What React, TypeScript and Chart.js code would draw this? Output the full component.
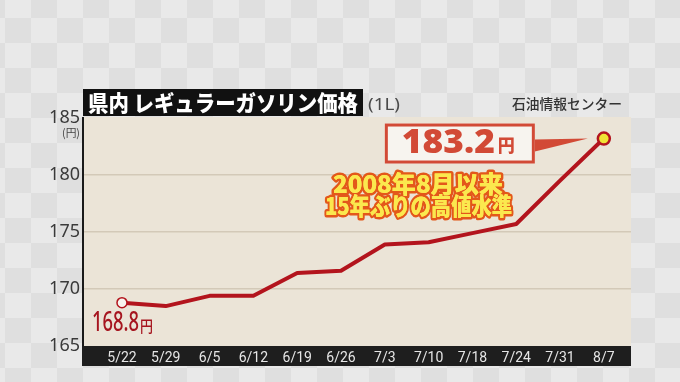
import React, { useEffect, useRef } from "react";
import { Chart, registerables } from "chart.js";

Chart.register(...registerables);

const dates = ["5/22", "5/29", "6/5", "6/12", "6/19", "6/26", "7/3", "7/10", "7/18", "7/24", "7/31", "8/7"];
const prices = [168.8, 168.5, 169.4, 169.4, 171.4, 171.6, 173.9, 174.1, 174.9, 175.7, 179.5, 183.2];
const yTicks = [165, 170, 175, 180, 185];
const titleText = "県内 レギュラーガソリン価格";
const unitText = "(1L)";
const sourceText = "石油情報センター";
const yUnitText = "(円)";
const endLabel = "183.2";
const startLabel = "168.8";
const yenText = "円";
const noteLines = ["2008年8月以来", "15年ぶりの高値水準"];

const CJK = '"Noto Sans CJK JP", "Noto Sans", sans-serif';

function fitText(
  ctx: CanvasRenderingContext2D,
  text: string,
  x: number,
  yMid: number,
  w: number,
  font: string,
  fill: string | CanvasGradient,
  stroke?: string,
  strokeW?: number
) {
  ctx.save();
  ctx.font = font;
  ctx.textAlign = "left";
  ctx.textBaseline = "middle";
  const m = ctx.measureText(text).width;
  const sx = w / m;
  ctx.translate(x, yMid);
  ctx.scale(sx, 1);
  if (stroke && strokeW) {
    ctx.lineJoin = "round";
    ctx.lineWidth = strokeW;
    ctx.strokeStyle = stroke;
    ctx.strokeText(text, 0, 0);
  }
  ctx.fillStyle = fill as any;
  ctx.fillText(text, 0, 0);
  ctx.restore();
}

const backgroundPlugin = {
  id: "bgPanel",
  beforeDraw(chart: any) {
    const ctx: CanvasRenderingContext2D = chart.ctx;
    const { width, height, chartArea } = chart;
    ctx.save();
    ctx.fillStyle = "#e9e9e9";
    ctx.fillRect(0, 0, width, height);
    const cw = 26, ch = 25, ox = -21, oy = -7;
    for (let r = 0; oy + r * ch < height; r++) {
      for (let c = 0; ox + c * cw < width; c++) {
        if ((r + c) % 2 === 0) {
          ctx.fillStyle = "#dfdfdf";
          ctx.fillRect(ox + c * cw, oy + r * ch, cw, ch);
        }
      }
    }
    ctx.fillStyle = "#ebe4d7";
    ctx.fillRect(chartArea.left, chartArea.top - 1, chartArea.right - chartArea.left, chartArea.bottom - chartArea.top + 1);
    ctx.fillStyle = "#1e1e1e";
    ctx.fillRect(chartArea.left - 1, chartArea.bottom, chartArea.right - chartArea.left + 1, 20);
    ctx.fillStyle = "#111111";
    ctx.fillRect(chartArea.left, chartArea.top - 29, 280, 27);
    ctx.restore();
    fitText(ctx, titleText, chartArea.left + 5, chartArea.top - 15, 270, `900 22px ${CJK}`, "#ffffff");
    fitText(ctx, unitText, chartArea.left + 285, chartArea.top - 13, 32, `16px "Noto Sans", sans-serif`, "#4a4a4a");
    fitText(ctx, sourceText, chartArea.right - 119, chartArea.top - 14, 110, `500 14px ${CJK}`, "#333333");
    const yScale = chart.scales.y;
    fitText(ctx, yUnitText, chartArea.left - 21, yScale.getPixelForValue(185) + 15, 18, `11px ${CJK}`, "#444444");
  },
};

const annotationPlugin = {
  id: "notes",
  afterDraw(chart: any) {
    const ctx: CanvasRenderingContext2D = chart.ctx;
    const xs = chart.scales.x;
    const ys = chart.scales.y;
    const last = prices.length - 1;
    const ex = xs.getPixelForValue(last);
    const ey = ys.getPixelForValue(prices[last]);
    const sx = xs.getPixelForValue(0);
    const sy = ys.getPixelForValue(prices[0]);

    ctx.save();
    const boxR = ex - 69;
    const boxL = boxR - 150;
    const boxT = ey - 15;
    const boxB = ey + 25;
    ctx.fillStyle = "#d24a36";
    ctx.beginPath();
    ctx.moveTo(boxR, ey + 1);
    ctx.lineTo(ex - 16, ey);
    ctx.lineTo(boxR, ey + 13);
    ctx.closePath();
    ctx.fill();
    ctx.fillStyle = "#f7f4ef";
    ctx.fillRect(boxL, boxT, boxR - boxL, boxB - boxT);
    ctx.strokeStyle = "#d24a36";
    ctx.lineWidth = 3;
    ctx.strokeRect(boxL + 1.5, boxT + 1.5, boxR - boxL - 3, boxB - boxT - 3);
    ctx.restore();
    fitText(ctx, endLabel, boxL + 17, boxT + 20, 93, `900 33px "Noto Sans", sans-serif`, "#d24a36");
    fitText(ctx, yenText, boxL + 113, boxT + 22, 17, `900 18px ${CJK}`, "#d24a36");

    const grad = ctx.createLinearGradient(0, 172, 0, 218);
    grad.addColorStop(0, "#fbe84e");
    grad.addColorStop(0.5, "#f9cf25");
    grad.addColorStop(1, "#f6b01c");
    fitText(ctx, noteLines[0], 333, 184, 170, `900 24px ${CJK}`, grad, "#e3581a", 5);
    fitText(ctx, noteLines[1], 325, 206, 187, `900 24px ${CJK}`, grad, "#e3581a", 5);
    fitText(ctx, noteLines[0], 333, 184, 170, `900 24px ${CJK}`, grad);
    fitText(ctx, noteLines[1], 325, 206, 187, `900 24px ${CJK}`, grad);

    fitText(ctx, startLabel, sx - 30, sy + 21, 47, `500 27px "Noto Sans", sans-serif`, "#a6151f");
    fitText(ctx, yenText, sx + 18, sy + 23, 13, `500 16px ${CJK}`, "#a6151f");
  },
};

export default function App() {
  const canvasRef = useRef<HTMLCanvasElement | null>(null);

  useEffect(() => {
    document.body.style.margin = "0";
    const canvas = canvasRef.current;
    if (!canvas) return;
    const n = prices.length;
    const radii = prices.map((_, i) => (i === 0 ? 5 : i === n - 1 ? 6 : 0));
    const fills = prices.map((_, i) => (i === n - 1 ? "#f0e535" : "#f7f4ef"));
    const borders = prices.map(() => "#b3141d");
    const bws = prices.map((_, i) => (i === n - 1 ? 2.5 : 1.5));

    const chart = new Chart(canvas, {
      type: "line",
      data: {
        datasets: [
          {
            data: prices.map((v, i) => ({ x: i, y: v })),
            borderColor: "#b3141d",
            borderWidth: 4,
            tension: 0,
            pointRadius: radii,
            pointBackgroundColor: fills,
            pointBorderColor: borders,
            pointBorderWidth: bws,
            borderJoinStyle: "round",
          } as any,
        ],
      },
      options: {
        animation: false,
        responsive: false,
        maintainAspectRatio: false,
        layout: { padding: { top: 118, right: 49, bottom: 0, left: 0 } },
        plugins: {
          legend: { display: false },
          tooltip: { enabled: false },
          title: { display: false },
        },
        scales: {
          x: {
            type: "linear",
            min: -0.89,
            max: 11.62,
            afterBuildTicks: (scale: any) => {
              scale.ticks = dates.map((_, i) => ({ value: i }));
            },
            afterFit: (scale: any) => {
              scale.height = 36;
            },
            grid: { display: false, drawTicks: false },
            border: { display: false },
            ticks: {
              padding: 4,
              autoSkip: false,
              maxRotation: 0,
              color: "#e6e6e6",
              font: { family: '"Liberation Sans Narrow", "Roboto", sans-serif', size: 14 },
              callback: (v: any) => dates[Number(v)] ?? "",
            },
          },
          y: {
            min: 165,
            max: 185,
            afterBuildTicks: (scale: any) => {
              scale.ticks = yTicks.map((v) => ({ value: v }));
            },
            afterFit: (scale: any) => {
              scale.width = 83;
            },
            grid: {
              drawTicks: false,
              color: (c: any) => (c.tick && (c.tick.value === 165 || c.tick.value === 185) ? "rgba(0,0,0,0)" : "#d3c9b8"),
              lineWidth: 1.5,
            },
            border: { display: true, color: "#1a1a1a", width: 2 },
            ticks: {
              padding: 3,
              color: "#3a3a3a",
              font: { family: '"Noto Sans", sans-serif', size: 18 },
              callback: (v: any) => String(v),
            },
          },
        },
      },
      plugins: [backgroundPlugin, annotationPlugin],
    });
    return () => chart.destroy();
  }, []);

  return (
    <div style={{ position: "fixed", left: 0, top: 0, width: 680, height: 382 }}>
      <canvas ref={canvasRef} width={680} height={382} style={{ width: 680, height: 382, display: "block" }} />
    </div>
  );
}
